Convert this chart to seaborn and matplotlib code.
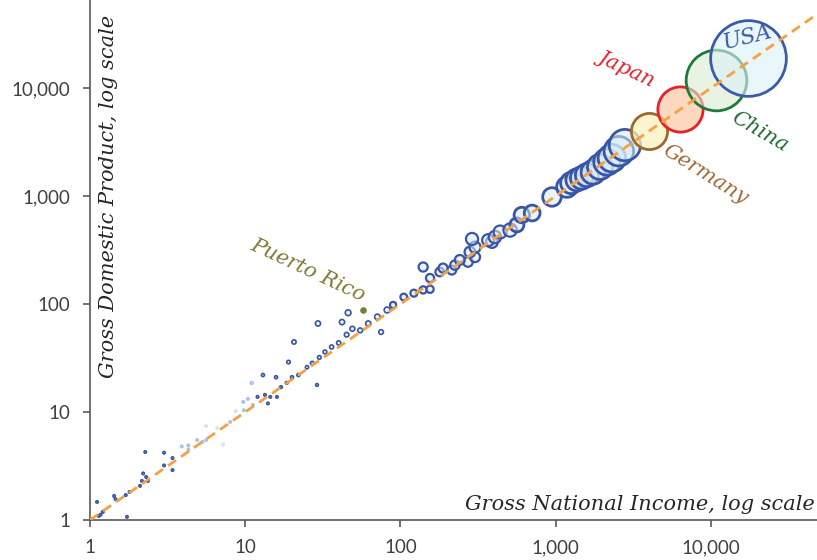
import numpy as np
import pandas as pd
import seaborn as sns
import matplotlib.pyplot as plt
from matplotlib.ticker import FixedLocator, FuncFormatter, NullLocator

# GNI vs GDP (billions, log scale)
gni = [1.11, 1.21, 1.14, 1.17, 1.43, 1.46, 1.73, 1.7, 1.8, 2.1, 2.16, 2.36, 2.3, 2.2,
       2.27, 3.0, 3.0, 3.4, 3.4, 12, 13.4, 14.5, 16, 14, 13, 15.8, 17, 18.5, 19, 20.6,
       20, 22, 25, 27, 29, 29.4, 30, 32.6, 36, 40, 42, 46, 45, 49, 55, 62, 75, 71,
       82, 89.6, 105, 122, 140, 155, 155, 140, 179, 188, 214, 224, 241, 272, 302, 280,
       302, 289, 367, 388, 406, 438, 508, 562, 605, 705, 946, 1180, 1260, 1370, 1470,
       1590, 1740, 1930, 2140, 2300, 2550, 2790]
gdp = [1.47, 1.19, 1.09, 1.12, 1.67, 1.56, 1.07, 1.7, 1.82, 2.07, 2.3, 2.3, 2.5, 2.7,
       4.26, 3.2, 4.2, 3.75, 2.9, 13.8, 14.4, 13.8, 13.8, 12, 22, 21, 17, 18.6, 29, 44.5,
       21, 22, 26, 28.4, 17.8, 66, 32, 36, 40, 43.6, 68, 83, 52, 59, 57, 66, 55, 76,
       88, 98, 116, 126, 135, 137, 174, 220, 198, 215, 206, 229, 256, 245, 272, 303,
       336, 400, 390, 375, 417, 464, 484, 540, 667, 696, 980, 1210, 1320, 1410, 1470,
       1560, 1660, 1860, 2070, 2240, 2600, 2960]

# the faint points between roughly 4 and 12
pale_gni = [3.9, 4.3, 4.3, 4.9, 5.3, 5.6, 8.0, 9.7, 9.8, 10.4, 11.0, 11.2]
pale_gdp = [4.8, 4.9, 4.5, 5.5, 5.3, 5.5, 8.1, 12.4, 10.4, 13.2, 18.6, 11.6]
paler_gni = [5.6, 6.6, 7.2, 8.7]
paler_gdp = [7.4, 7.1, 5.0, 10.2]

named = ["Germany", "Japan", "China", "USA"]
named_gni = [3990, 6310, 10770, 17300]
named_gdp = [3990, 6390, 11860, 18900]

pr_gni, pr_gdp = 57, 88

def bubble(v):
    return np.clip(2836 * (np.asarray(v) / 18000) ** 0.95, 3, None)

df = pd.DataFrame({"gni": gni, "gdp": gdp})
df["area"] = bubble(df.gdp)
df = df.sort_values("area")

sns.set_style("white")
plt.rcParams["font.family"] = ["Lato", "DejaVu Sans"]

fig = plt.figure(figsize=(8.17, 5.6), dpi=100)
ax = fig.add_axes([90 / 817, 40 / 560, 727 / 817, 520 / 560])

blue = "#3a55a6"
fill = (0.84, 0.92, 0.96, 0.55)

def dots(d, edge, lw, face=fill, z=2):
    sns.scatterplot(data=d, x="gni", y="gdp", size="area",
                    sizes=(d.area.min(), d.area.max() + 1e-6),
                    size_norm=(d.area.min(), d.area.max() + 1e-6),
                    facecolor=face, edgecolor=edge, linewidth=lw,
                    legend=False, ax=ax, zorder=z)

for lo, hi, lw in [(0, 90, 1.2), (90, 500, 1.6), (500, 1e9, 2.0)]:
    part = df[(df.gdp >= lo) & (df.gdp < hi)]
    dots(part, blue, lw)

for xs, ys, col in [(pale_gni, pale_gdp, "#a8bde2"), (paler_gni, paler_gdp, "#d4e2f3")]:
    p = pd.DataFrame({"gni": xs, "gdp": ys})
    p["area"] = bubble(p.gdp)
    dots(p, col, 1.1)

ax.scatter([pr_gni], [pr_gdp], s=14, color="#7b7b35", zorder=3)

named_edge = ["#9b6a30", "#e8202a", "#1e7a3a", "#3b5ba9"]
named_face = [(0.98, 0.95, 0.75, 0.75), (0.98, 0.80, 0.66, 0.75),
              (0.85, 0.92, 0.82, 0.6), (0.86, 0.94, 0.97, 0.6)]
for i in range(len(named)):
    p = pd.DataFrame({"gni": [named_gni[i]], "gdp": [named_gdp[i]]})
    p["area"] = bubble(p.gdp)
    sns.scatterplot(data=p, x="gni", y="gdp", s=p.area.iloc[0],
                    facecolor=named_face[i], edgecolor=named_edge[i],
                    linewidth=2.0, legend=False, ax=ax, zorder=3 + i * 0.1)

ax.set_xscale("log")
ax.set_yscale("log")
ax.set_xlim(1, 48200)
ax.set_ylim(1, 65300)
ax.axline((1, 1), (10, 10), color="#f5a043", lw=2, ls=(0, (3.5, 2.2)), zorder=6)

decades = [1, 10, 100, 1000, 10000]
fmt = FuncFormatter(lambda v, _: f"{v:,.0f}")
for axis in (ax.xaxis, ax.yaxis):
    axis.set_major_locator(FixedLocator(decades))
    axis.set_major_formatter(fmt)
    axis.set_minor_locator(NullLocator())
ax.tick_params(axis="both", which="major", direction="out", length=5, width=1.2,
               color="#595959", labelsize=13.5, labelcolor="#404040", pad=9,
               bottom=True, left=True)
sns.despine(ax=ax)
for s in ("left", "bottom"):
    ax.spines[s].set_color("#595959")
    ax.spines[s].set_linewidth(1.2)
ax.set_xlabel("")
ax.set_ylabel("")

serif = dict(family=["DejaVu Serif"], style="italic")
fig.text(815 / 817, 1 - 505 / 560, "Gross National Income, log scale",
         ha="right", va="center", fontsize=15, color="#262626", **serif)
fig.text(109 / 817, 1 - 15 / 560, "Gross Domestic Product, log scale",
         ha="center", va="top", rotation=90, fontsize=15, color="#262626", **serif)

labels = [("USA", 17300, 29650, 14, "#3b5ba9", 16),
          ("Japan", 2877, 15310, -25, "#e8202a", 15),
          ("China", 20700, 3915, -30, "#1e6b30", 15),
          ("Germany", 9150, 1565, -32, "#9b6a35", 15),
          ("Puerto Rico", 25.4, 206, -25, "#7b7b35", 15)]
for txt, x, y, rot, col, fs in labels:
    ax.text(x, y, txt, rotation=rot, color=col, fontsize=fs, ha="center",
            va="center", rotation_mode="anchor", zorder=7, **serif)

fig.savefig("out.png", dpi=100)
